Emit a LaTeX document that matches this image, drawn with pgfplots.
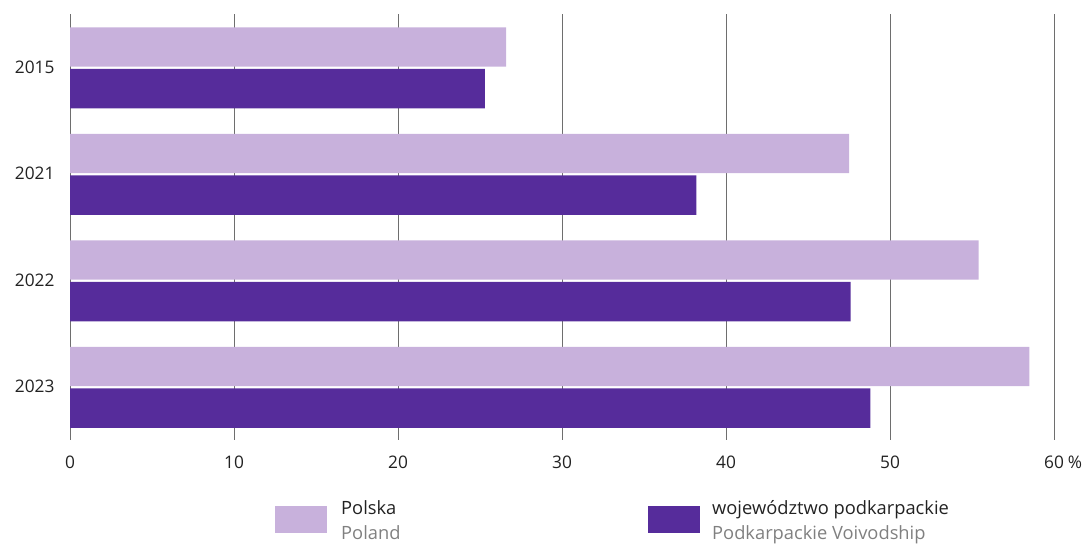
\documentclass[border=0pt]{standalone}
\usepackage{pgfplots}
\pgfplotsset{compat=1.18}
\usepackage{fontspec}
\setmainfont{Open Sans}
\definecolor{light}{HTML}{C8B1DC}
\definecolor{dark}{HTML}{562C9B}
\definecolor{gridc}{HTML}{6E6E6E}
\definecolor{txt}{HTML}{222222}
\definecolor{sub}{HTML}{808080}
\begin{document}
\begin{tikzpicture}[x=1pt,y=1pt]
\path (0,0) rectangle (1088,544);
\begin{axis}[
  at={(70pt,104pt)}, anchor=south west,
  scale only axis, width=984pt, height=426pt,
  xmin=0, xmax=60, ymin=-0.5, ymax=3.5,
  y dir=reverse,
  axis line style={draw=none},
  xtick={0,10,20,30,40,50,60},
  xticklabels={0,10,20,30,40,50,60\rlap{\hspace{4pt}\%}},
  ytick={0,1,2,3},
  yticklabels={2015,2021,2022,2023},
  major tick length=0pt,
  xmajorgrids, grid style={gridc, line width=0.9pt},
  tick label style={font=\fontsize{17.3}{20}\selectfont, text=txt},
  xticklabel style={yshift=-12pt},
  yticklabel style={xshift=-12pt},
  /pgf/number format/assume math mode=true,
  xbar, bar width=0.37, bar shift=0pt,
  clip=false,
]
\addplot[draw=none, fill=light] coordinates {(26.6,-0.19) (47.5,0.81) (55.4,1.81) (58.5,2.81)};
\addplot[draw=none, fill=dark] coordinates {(25.3,0.2) (38.2,1.2) (47.6,2.2) (48.8,3.2)};
\end{axis}
\fill[light] (275,11) rectangle (327,38);
\fill[dark] (648,11) rectangle (700,38);
\node[anchor=base west, inner sep=0pt, text=txt, font=\fontsize{18.3}{21}\selectfont] at (341,29) {Polska};
\node[anchor=base west, inner sep=0pt, text=sub, font=\fontsize{18.3}{21}\selectfont] at (341,4) {Poland};
\node[anchor=base west, inner sep=0pt, text=txt, font=\fontsize{18.3}{21}\selectfont] at (712,29) {województwo podkarpackie};
\node[anchor=base west, inner sep=0pt, text=sub, font=\fontsize{18.3}{21}\selectfont] at (712,4) {Podkarpackie Voivodship};
\end{tikzpicture}
\end{document}
